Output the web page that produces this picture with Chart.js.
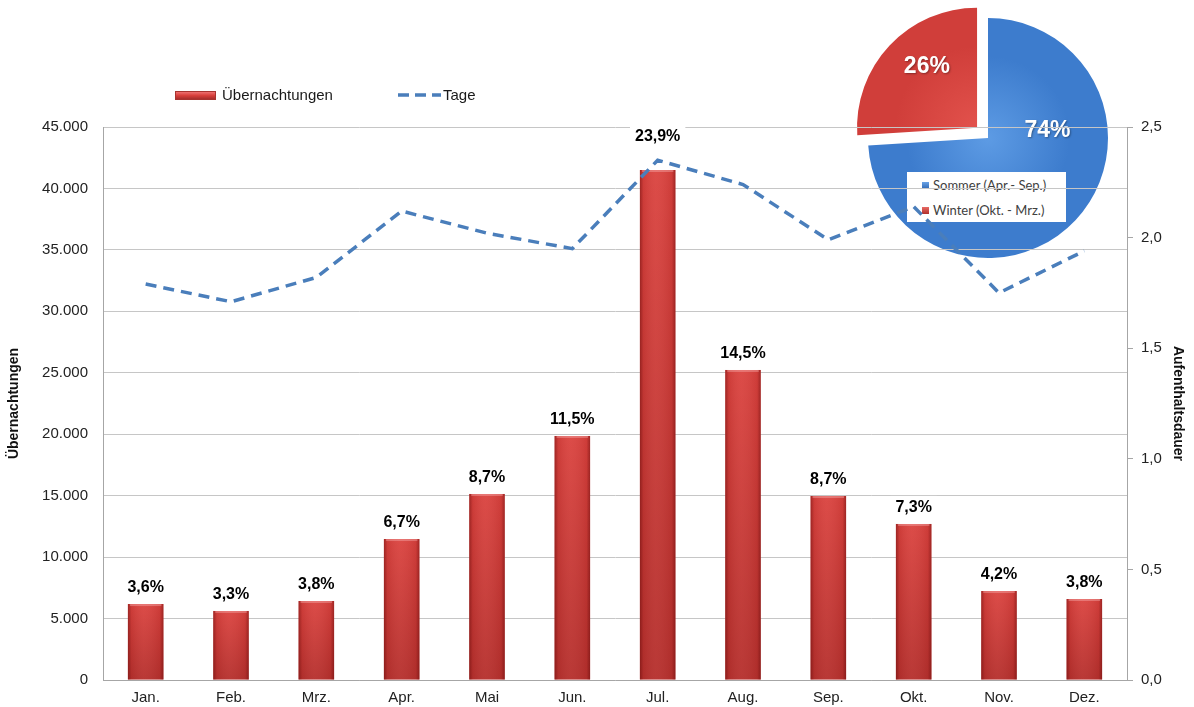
<!DOCTYPE html>
<html>
<head>
<meta charset="utf-8">
<script src="https://cdn.jsdelivr.net/npm/chart.js@4"></script>
<style>
html,body{margin:0;padding:0;background:#fff;}
#wrap{position:relative;width:1194px;height:707px;overflow:hidden;font-family:"Liberation Sans",Arial,sans-serif;}
#pieCanvas{position:absolute;left:848px;top:-2px;z-index:1;}
#pieLegend{position:absolute;left:907px;top:172px;width:159px;height:50px;background:#fff;z-index:2;font-family:Lato,"Open Sans",sans-serif;font-size:13px;color:#404040;}
#pieLegend .row{position:absolute;left:15px;height:16px;line-height:16px;white-space:nowrap;}
#pieLegend .sw{display:inline-block;width:7px;height:7px;margin-right:4px;vertical-align:middle;position:relative;top:-1px;}
#mainCanvas{position:absolute;left:0;top:0;z-index:3;}
#legend{position:absolute;left:0;top:0;z-index:4;font-size:15px;color:#1a1a1a;}
#legend .item{position:absolute;top:86px;height:18px;line-height:18px;white-space:nowrap;}
</style>
</head>
<body>
<div id="wrap">
  <canvas id="pieCanvas" width="280" height="280"></canvas>
  <div id="pieLegend">
    <div class="row" style="top:5px"><span class="sw" style="background:linear-gradient(#6aa3e6,#2f67b2)"></span><span id="pl0"></span></div>
    <div class="row" style="top:30px"><span class="sw" style="background:linear-gradient(#e86a64,#b0302c)"></span><span id="pl1"></span></div>
  </div>
  <canvas id="mainCanvas" width="1194" height="707"></canvas>
  <div id="legend">
    <div class="item" style="left:175px"><span style="display:inline-block;width:39px;height:7px;vertical-align:middle;position:relative;top:-1px;margin-right:6px;background:linear-gradient(#ee7070,#d8403c 50%,#a82e2c);border:1px solid #a83430;"></span><span id="lg0"></span></div>
    <div class="item" style="left:397px"><svg width="46" height="8" style="vertical-align:middle;position:relative;top:-1px;"><line x1="1" y1="4" x2="44" y2="4" stroke="#4a7ebb" stroke-width="3.5" stroke-dasharray="11 6"/></svg><span id="lg1"></span></div>
  </div>
</div>
<script>
// ---------- data ----------
const months = ['Jan.','Feb.','Mrz.','Apr.','Mai','Jun.','Jul.','Aug.','Sep.','Okt.','Nov.','Dez.'];
const overnights = [6180, 5620, 6430, 11470, 15140, 19860, 41500, 25230, 14970, 12700, 7240, 6590];
const stayDays = [1.79, 1.71, 1.82, 2.12, 2.02, 1.95, 2.35, 2.24, 1.99, 2.14, 1.75, 1.94];
const shares = [3.6, 3.3, 3.8, 6.7, 8.7, 11.5, 23.9, 14.5, 8.7, 7.3, 4.2, 3.8];
const seriesNames = ['Übernachtungen', 'Tage'];
const axisTitles = ['Übernachtungen', 'Aufenthaltsdauer'];
const pieLabels = ['Sommer (Apr.- Sep.)', 'Winter (Okt. - Mrz.)'];
const pieValues = [74, 26];

document.getElementById('lg0').textContent = seriesNames[0];
document.getElementById('lg1').textContent = seriesNames[1];
document.getElementById('pl0').textContent = pieLabels[0];
document.getElementById('pl1').textContent = pieLabels[1];

const FAM = '"Liberation Sans", Arial, sans-serif';
const fmtThousands = v => String(Math.round(v)).replace(/\B(?=(\d{3})+(?!\d))/g, '.');
const fmtDec = v => Number(v).toFixed(1).replace('.', ',');

// ---------- pie ----------
const pieColors = [['#5d9be4', '#3d7ccd', '#2a5fa8'], ['#e2524c', '#d03e3a', '#a52b29']];
function pieFill(c) {
  const area = c.chart.chartArea;
  const cols = pieColors[c.dataIndex];
  if (!area) return cols[1];
  const cx = (area.left + area.right) / 2, cy = (area.top + area.bottom) / 2;
  const g = c.chart.ctx.createRadialGradient(cx, cy, 0, cx, cy, 136);
  g.addColorStop(0, cols[0]);
  g.addColorStop(0.6, cols[1]);
  g.addColorStop(0.93, cols[1]);
  g.addColorStop(1, cols[2]);
  return g;
}
const pieLabelPlugin = {
  id: 'pieLabels',
  afterDatasetsDraw(chart) {
    const ctx = chart.ctx;
    const meta = chart.getDatasetMeta(0);
    ctx.save();
    ctx.font = 'bold 23px ' + FAM;
    ctx.fillStyle = '#fff';
    ctx.textAlign = 'center';
    ctx.textBaseline = 'middle';
    ctx.shadowColor = 'rgba(0,0,0,0.35)';
    ctx.shadowBlur = 2;
    ctx.shadowOffsetX = 1;
    ctx.shadowOffsetY = 1;
    meta.data.forEach((a, i) => {
      const p = a.getProps(['x', 'y', 'startAngle', 'endAngle', 'outerRadius'], true);
      const span = p.endAngle - p.startAngle;
      const big = span > Math.PI;
      const mid = (p.startAngle + p.endAngle) / 2;
      const off = (a.options.offset || 0) / 4;
      const cx = p.x + Math.cos(mid) * off, cy = p.y + Math.sin(mid) * off;
      const ang = p.startAngle + span * (big ? 0.31 : 0.58);
      const r = p.outerRadius * (big ? 0.5 : 0.66);
      ctx.fillText(pieValues[i] + '%', cx + Math.cos(ang) * r, cy + Math.sin(ang) * r);
    });
    ctx.restore();
  }
};
new Chart(document.getElementById('pieCanvas'), {
  type: 'pie',
  data: {
    labels: pieLabels,
    datasets: [{
      data: pieValues,
      backgroundColor: pieFill,
      borderWidth: 0,
      offset: [0, 60],
      radius: 120
    }]
  },
  options: {
    responsive: false,
    animation: false,
    layout: { padding: 0 },
    plugins: { legend: { display: false }, tooltip: { enabled: false } }
  },
  plugins: [pieLabelPlugin]
});

// ---------- main chart ----------
const barShade = {
  id: 'barShade',
  afterDatasetDraw(chart, args) {
    if (args.index !== 0) return;
    const ctx = chart.ctx;
    ctx.save();
    args.meta.data.forEach(b => {
      const p = b.getProps(['x', 'y', 'base', 'width'], true);
      const l = p.x - p.width / 2, w = p.width, top = p.y, h = p.base - p.y;
      const g = ctx.createLinearGradient(l, 0, l + w, 0);
      g.addColorStop(0, 'rgba(100,10,10,0.5)');
      g.addColorStop(0.1, 'rgba(100,10,10,0.1)');
      g.addColorStop(0.45, 'rgba(255,255,255,0.05)');
      g.addColorStop(0.9, 'rgba(100,10,10,0.1)');
      g.addColorStop(1, 'rgba(100,10,10,0.5)');
      ctx.fillStyle = g;
      ctx.fillRect(l, top, w, h);
      const v = ctx.createLinearGradient(0, top, 0, p.base);
      v.addColorStop(0, 'rgba(80,0,0,0)');
      v.addColorStop(1, 'rgba(80,0,0,0.25)');
      ctx.fillStyle = v;
      ctx.fillRect(l, top, w, h);
      ctx.fillStyle = 'rgba(255,200,200,0.35)';
      ctx.fillRect(l + 2, top, w - 4, 2);
    });
    ctx.restore();
  }
};
const barLabels = {
  id: 'barLabels',
  afterDatasetsDraw(chart) {
    const ctx = chart.ctx;
    const bars = chart.getDatasetMeta(0).data;
    const pts = chart.getDatasetMeta(1).data;
    ctx.save();
    ctx.font = 'bold 16px ' + FAM;
    ctx.textAlign = 'center';
    ctx.textBaseline = 'middle';
    bars.forEach((b, i) => {
      const txt = fmtDec(shares[i]) + '%';
      let y = b.y - 17;
      const pt = pts[i];
      if (pt && Math.abs(pt.y - y) < 16) y = pt.y - 25;
      const w = ctx.measureText(txt).width + 10;
      ctx.fillStyle = '#fff';
      ctx.fillRect(b.x - w / 2, y - 11, w, 22);
      ctx.fillStyle = '#000';
      ctx.fillText(txt, b.x, y + 1);
    });
    ctx.restore();
  }
};

const tickFont = { family: FAM, size: 15 };
const titleFont = { family: FAM, size: 14, weight: 'bold' };

new Chart(document.getElementById('mainCanvas'), {
  type: 'bar',
  data: {
    labels: months,
    datasets: [
      {
        type: 'bar',
        label: seriesNames[0],
        data: overnights,
        yAxisID: 'y',
        backgroundColor: '#da423e',
        borderWidth: 0,
        categoryPercentage: 0.8,
        barPercentage: 0.52,
        order: 1
      },
      {
        type: 'line',
        label: seriesNames[1],
        data: stayDays,
        yAxisID: 'y1',
        borderColor: '#4a7ebb',
        borderWidth: 3.5,
        borderDash: [11, 7],
        pointRadius: 0,
        tension: 0,
        fill: false,
        order: 0
      }
    ]
  },
  options: {
    responsive: false,
    animation: false,
    layout: { padding: { top: 127, left: 0, right: 0, bottom: 0 } },
    plugins: { legend: { display: false }, tooltip: { enabled: false } },
    scales: {
      x: {
        grid: { display: false, drawTicks: false },
        border: { display: true, color: '#a6a6a6' },
        ticks: { font: tickFont, color: '#222', padding: 9 },
        afterFit(s) { s.height = 27; }
      },
      y: {
        position: 'left',
        min: 0, max: 45000,
        ticks: { stepSize: 5000, callback: v => fmtThousands(v), font: tickFont, color: '#222', padding: 15 },
        grid: { color: '#c6c6c6', drawTicks: false },
        border: { color: '#a6a6a6' },
        title: { display: true, text: axisTitles[0], font: titleFont, color: '#111', padding: { top: 6, bottom: 0 } },
        afterFit(s) { s.width = 103; }
      },
      y1: {
        position: 'right',
        min: 0, max: 2.5,
        ticks: { stepSize: 0.5, callback: v => fmtDec(v), font: tickFont, color: '#222', padding: 8 },
        grid: { drawOnChartArea: false, drawTicks: true, tickLength: 6, color: '#a6a6a6' },
        border: { color: '#a6a6a6' },
        title: { display: true, text: axisTitles[1], font: titleFont, color: '#111', padding: { top: 8, bottom: 0 } },
        afterFit(s) { s.width = 67; }
      }
    }
  },
  plugins: [barShade, barLabels]
});
</script>
</body>
</html>
